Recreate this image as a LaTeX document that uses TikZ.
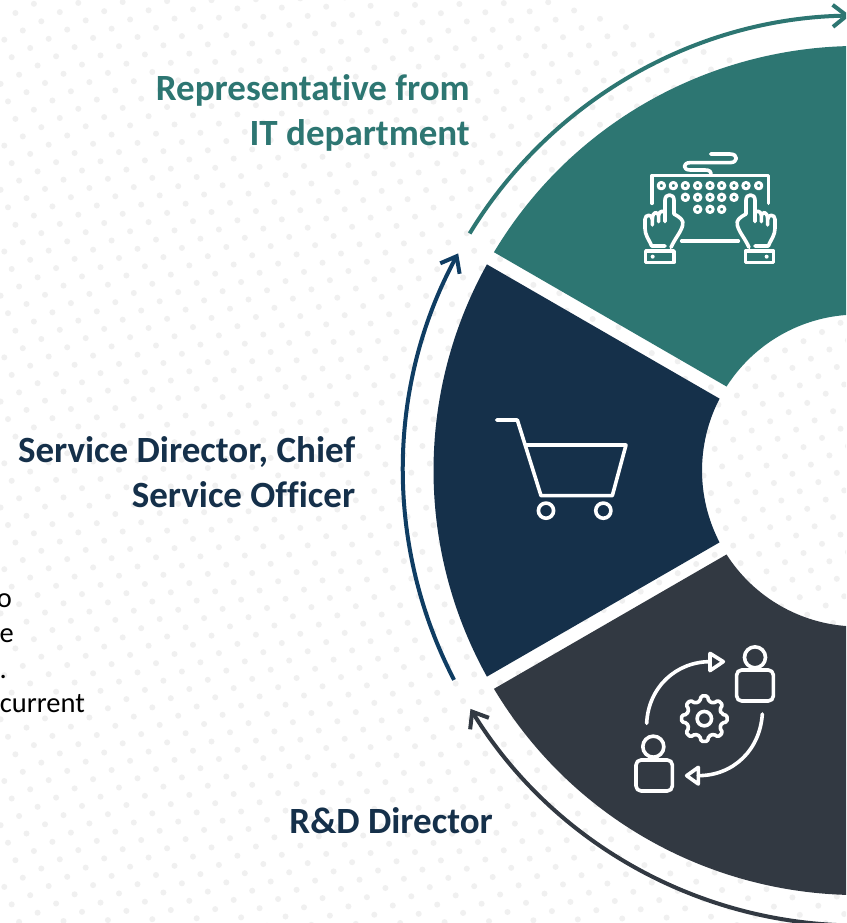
\documentclass[tikz,border=0pt]{standalone}
\usepackage{fontspec}
\setmainfont{Carlito}[Ligatures=NoCommon]
\usetikzlibrary{arrows.meta,calc}
\definecolor{itgreen}{HTML}{2D7672}
\definecolor{servblue}{HTML}{15304A}
\definecolor{servarrow}{HTML}{0F3D63}
\definecolor{rdgrey}{HTML}{323942}
\definecolor{dotgrey}{HTML}{F0F0F0}
\newcommand*{\OuterR}{424.5pt}
\newcommand*{\InnerR}{156pt}
\newcommand*{\ArrowR}{455pt}
\tikzset{
    ringarrow/.style={line width=4pt, -{Straight Barb[length=14pt,width=22pt,line width=4pt]}},
    iconline/.style={draw=white, line width=3.6pt, line join=round, line cap=round},
    heading/.style={font=\bfseries\fontsize{37}{45.5}\selectfont, align=right, anchor=north east, inner sep=0pt},
    bodytext/.style={font=\fontsize{28.5}{28.5}\selectfont, text=black, anchor=base east, inner sep=0pt}
}
% one part of the ring: colour, outer angles, inner angles
\newcommand*{\RingPart}[5]{
    \fill[#1] ($(center)+(#2:\OuterR)$) arc[start angle=#2,end angle=#3,radius=\OuterR]
        -- ($(center)+(#4:\InnerR)$) arc[start angle=#4,end angle=#5,radius=\InnerR] -- cycle;
}
% one hand of the keyboard picture
\newcommand*{\HandPath}{
    \draw[iconline] (135,318) -- (95,318) .. controls (85,295) and (75,285) .. (75,265) -- (75,238)
        .. controls (75,222) and (97,222) .. (97,238) -- (97,255);
    \draw[iconline] (97,238) .. controls (97,212) and (116,212) .. (116,232) -- (116,245);
    \draw[iconline] (116,225) .. controls (118,212) and (130,212) .. (135,218);
    \draw[iconline] (135,245) -- (135,180) .. controls (135,160) and (162,160) .. (162,180) -- (162,222)
        .. controls (180,232) and (192,240) .. (188,255) .. controls (184,275) and (165,295) .. (153,322);
}
\begin{document}
\begin{tikzpicture}[x=1pt,y=-1pt]
    \useasboundingbox (0,0) rectangle (846,923);
    \clip (0,0) rectangle (846,923);
    \fill[white] (0,0) rectangle (846,923);
    % dots of the page background
    \foreach \i in {-30,...,50}
        \foreach \j in {-30,...,50}
            \fill[dotgrey] ({11.7+18.5*\i+25.9*\j},{586.7-9.2*\i+8.3*\j}) circle (3pt);
    \coordinate (center) at (858,470.5);
    % ring
    \RingPart{itgreen}{149.05}{30.95}{32.57}{147.43}
    \RingPart{servblue}{150.95}{209.05}{207.43}{152.57}
    \RingPart{rdgrey}{210.95}{329.05}{327.43}{212.57}
    % arrows round the ring
    \coordinate (itstart) at ($(center)+(148.6:\ArrowR)$);
    \coordinate (servstart) at ($(center)+(207.4:\ArrowR)$);
    \coordinate (rdstart) at ($(center)+(272:\ArrowR)$);
    \draw[ringarrow, itgreen] (itstart) arc[start angle=148.6,end angle=91,radius=\ArrowR];
    \draw[ringarrow, servarrow] (servstart) arc[start angle=207.4,end angle=151.5,radius=\ArrowR];
    \draw[ringarrow, rdgrey] (rdstart) arc[start angle=272,end angle=211.6,radius=\ArrowR];
    % labels
    \node[heading, text=itgreen] (ittext) at (470,74) {Representative from\\IT department};
    \node[heading, text=servblue] (servtext) at (355.5,436) {Service Director, Chief\\Service Officer};
    \node[heading, text=servblue] (rdtext) at (493,807) {R\&D Director};
    \node[bodytext] (textone) at (12,607) {o};
    \node[bodytext] (texttwo) at (14,642.5) {e};
    \node[bodytext] (textthree) at (7,678) {.};
    \node[bodytext] (textfour) at (85,712.5) {current};
    % keyboard
    \begin{scope}[shift={(620,140)},x=0.3333pt,y=-0.3333pt]
        \draw[iconline] (272,42) -- (330,42) .. controls (355,42) and (355,68) .. (330,68) -- (210,68)
            .. controls (188,68) and (188,90) .. (210,90) -- (255,90) .. controls (270,90) and (273,95) .. (273,105);
        \draw[iconline] (96,190) -- (96,107) -- (445,107) -- (445,190);
        \foreach \x in {124,160,196,233,270,305,342,378,416}
            \draw[iconline, line width=3pt] (\x,137) circle (3.2pt);
        \foreach \x in {196,233,270,305,342}
            \draw[iconline, line width=3pt] (\x,172) circle (3.2pt);
        \foreach \x in {233,270,305}
            \draw[iconline, line width=3pt] (\x,208) circle (3.2pt);
        \draw[iconline] (185,303) -- (355,303);
        \HandPath
        \begin{scope}[shift={(540,0)},x=-0.3333pt]
            \HandPath
        \end{scope}
        \draw[iconline] (77,333) rectangle (162,367);
        \draw[iconline] (377,333) rectangle (460,367);
        \fill[white] (98,350) circle (2pt);
        \fill[white] (440,350) circle (2pt);
    \end{scope}
    % cart
    \begin{scope}[shift={(480,400)},x=0.3333pt,y=-0.3333pt]
        \draw[iconline] (50,60) -- (112,60) -- (183,287) -- (397,287) -- (438,135) -- (135,135);
        \draw[iconline] (198,332) circle (7.6pt);
        \draw[iconline] (370,332) circle (7.6pt);
    \end{scope}
    % people and gear
    \begin{scope}[shift={(620,630)},x=0.3333pt,y=-0.3333pt]
        \draw[iconline] (405,82) circle (10.5pt);
        \draw[iconline, rounded corners=5pt] (350,120) rectangle (460,213);
        \draw[iconline] (100,350) circle (10.5pt);
        \draw[iconline, rounded corners=5pt] (48,390) rectangle (157,483);
        \draw[iconline] (80,280) .. controls (85,170) and (170,95) .. (270,95);
        \draw[iconline] (270,70) -- (310,95) -- (270,122) -- cycle;
        \draw[iconline] (427,252) .. controls (420,360) and (340,437) .. (235,437);
        \draw[iconline] (235,412) -- (200,437) -- (235,462) -- cycle;
        \draw[iconline] (253,266) circle (7.2pt);
        \draw[iconline, rounded corners=1.5pt, shift={(253,266)}] (-14:54) foreach \a in {0,45,...,315} {
            -- (\a-14:54) -- (\a-8:69) -- (\a+8:69) -- (\a+14:54) } -- cycle;
    \end{scope}
\end{tikzpicture}
\end{document}
